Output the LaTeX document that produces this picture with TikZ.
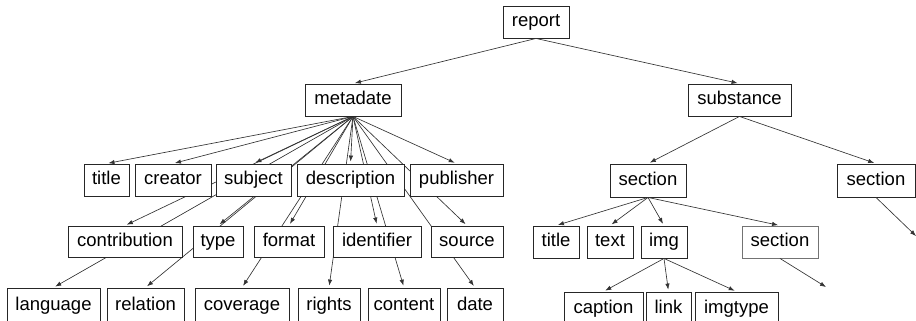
\documentclass[tikz,border=0pt]{standalone}
\usepackage{fontspec}
\setmainfont{Liberation Sans}
\usetikzlibrary{arrows.meta,backgrounds}
\begin{document}
\begin{tikzpicture}[x=1pt,y=-1pt,
  box/.style={draw=black!85,line width=0.9pt,fill=white,rectangle,inner sep=0pt,
    text height=13.5pt,text depth=4pt,
    minimum height=32pt,font=\fontsize{18.5}{22}\selectfont},
  edge/.style={draw=black!80,line width=0.65pt,-{Latex[length=6pt,width=4.4pt]},shorten >=2pt}]
\useasboundingbox (0,0) rectangle (916,321);
\clip (0,0) rectangle (916,321);
% top
\node[box,minimum width=66pt] (report) at (536,22) {report};
\node[box,minimum width=96pt] (meta) at (353,100) {metadate};
\node[box,minimum width=103pt] (subst) at (739.5,100) {substance};
% row 1
\node[box,minimum width=45pt] (title) at (106.5,180) {title};
\node[box,minimum width=76pt] (creator) at (173,180) {creator};
\node[box,minimum width=75pt] (subject) at (253.5,180) {subject};
\node[box,minimum width=107pt] (desc) at (350.5,180) {description};
\node[box,minimum width=93pt] (pub) at (456.5,180) {publisher};
% row 2
\node[box,minimum width=114pt,minimum height=31pt] (contr) at (125,241.5) {contribution};
\node[box,minimum width=50pt,minimum height=31pt] (type) at (218,241.5) {type};
\node[box,minimum width=70pt,minimum height=31pt] (format) at (289,241.5) {format};
\node[box,minimum width=88pt,minimum height=31pt] (ident) at (377,241.5) {identifier};
\node[box,minimum width=72pt,minimum height=31pt] (source) at (467,241.5) {source};
% row 3
\node[box,minimum width=93pt,minimum height=36pt] (lang) at (53.5,306) {language};
\node[box,minimum width=77pt,minimum height=36pt] (rel) at (145.5,306) {relation};
\node[box,minimum width=94pt,minimum height=36pt] (cov) at (242,306) {coverage};
\node[box,minimum width=62pt,minimum height=36pt] (rights) at (329,306) {rights};
\node[box,minimum width=72pt,minimum height=36pt] (content) at (404,306) {content};
\node[box,minimum width=56pt,minimum height=36pt] (date) at (475,306) {date};
% right subtree
\node[box,minimum width=76pt,minimum height=33pt] (secA) at (648,180.5) {section};
\node[box,minimum width=78pt,minimum height=33pt] (secB) at (876,180.5) {section};
\node[box,minimum width=46pt] (title2) at (556,242) {title};
\node[box,minimum width=46pt] (text) at (610,242) {text};
\node[box,minimum width=46pt] (img) at (664,242) {img};
\node[box,minimum width=76pt,draw=black!55] (secC) at (780,242) {section};
\node[box,minimum width=79pt,minimum height=34pt] (caption) at (603.5,309) {caption};
\node[box,minimum width=45pt,minimum height=34pt] (link) at (668.5,309) {link};
\node[box,minimum width=83pt,minimum height=34pt] (imgtype) at (736.5,309) {imgtype};
\coordinate (endC) at (826,287);
\coordinate (endB) at (916,236);
% edges behind the boxes
\begin{scope}[on background layer]
\foreach \c in {title,creator,subject,desc,pub,contr,type,format,ident,source,
  lang,rel,cov,rights,content,date}
  \draw[edge] (meta.south) -- (\c.north);
\end{scope}
\draw[edge] (report.south) -- (meta.north);
\draw[edge] (report.south) -- (subst.north);
\draw[edge] (subst.south) -- (secA.north);
\draw[edge] (subst.south) -- (secB.north);
\draw[edge] (secA.south) -- (title2.north);
\draw[edge] (secA.south) -- (text.north);
\draw[edge] (secA.south) -- (img.north);
\draw[edge] (secA.south) -- (secC.north);
\draw[edge] (img.south) -- (caption.north);
\draw[edge] (img.south) -- (link.north);
\draw[edge] (img.south) -- (imgtype.north);
\draw[edge,shorten >=0pt] (secC.south) -- (endC);
\draw[edge,shorten >=0pt] (secB.south) -- (endB);
\end{tikzpicture}
\end{document}
